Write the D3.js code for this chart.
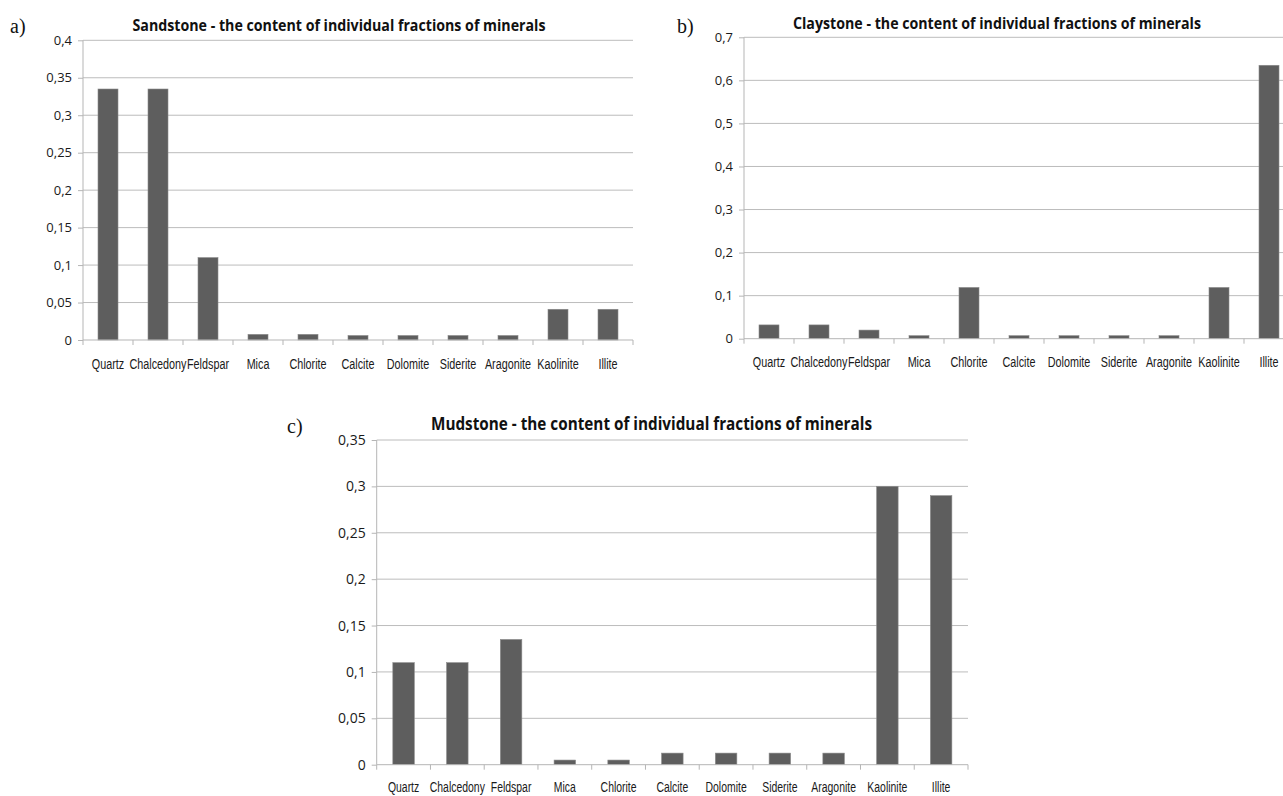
<!DOCTYPE html>
<html>
<head>
<meta charset="utf-8">
<script src="https://cdn.jsdelivr.net/npm/d3@7"></script>
<style>
  html, body { margin: 0; padding: 0; background: #fff; }
  svg { display: block; }
</style>
</head>
<body>
<svg id="fig" width="1283" height="796"></svg>
<script>
// Mineral categories shared by all three rock types
const minerals = ["Quartz", "Chalcedony", "Feldspar", "Mica", "Chlorite", "Calcite",
                  "Dolomite", "Siderite", "Aragonite", "Kaolinite", "Illite"];

// Content of individual mineral fractions
const sandstone = [0.335, 0.335, 0.11, 0.0075, 0.0075, 0.006, 0.006, 0.006, 0.006, 0.041, 0.041];
const claystone = [0.032, 0.032, 0.02, 0.007, 0.119, 0.007, 0.007, 0.007, 0.007, 0.119, 0.635];
const mudstone  = [0.11, 0.11, 0.135, 0.005, 0.005, 0.0125, 0.0125, 0.0125, 0.0125, 0.30, 0.29];

// Y-axis tick values for each panel
const ticksSandstone = [0, 0.05, 0.1, 0.15, 0.2, 0.25, 0.3, 0.35, 0.4];
const ticksClaystone = [0, 0.1, 0.2, 0.3, 0.4, 0.5, 0.6, 0.7];
const ticksMudstone  = [0, 0.05, 0.1, 0.15, 0.2, 0.25, 0.3, 0.35];

const titles = [
  "Sandstone - the content of individual fractions of minerals",
  "Claystone - the content of individual fractions of minerals",
  "Mudstone - the content of individual fractions of minerals"
];
const panelTags = ["a)", "b)", "c)"];

// Panel geometry
const panels = [
  { values: sandstone, ticks: ticksSandstone, title: titles[0], tag: panelTags[0],
    x0: 83, x1: 633, y0: 340, y1: 40.3,
    titleX: 339, titleY: 31, titleLen: 413, titleSize: 16,
    tagX: 10, tagY: 33, tickSize: 13, labelY: 368.5, labelSize: 15 },
  { values: claystone, ticks: ticksClaystone, title: titles[1], tag: panelTags[1],
    x0: 744, x1: 1294, y0: 338.7, y1: 37.3,
    titleX: 997, titleY: 28.5, titleLen: 408, titleSize: 16,
    tagX: 677, tagY: 33, tickSize: 13, labelY: 366.5, labelSize: 15 },
  { values: mudstone, ticks: ticksMudstone, title: titles[2], tag: panelTags[2],
    x0: 376.7, x1: 968, y0: 764.7, y1: 440,
    titleX: 651.5, titleY: 429.5, titleLen: 441, titleSize: 17,
    tagX: 287, tagY: 433, tickSize: 14, labelY: 792, labelSize: 14.5 }
];

const svg = d3.select("#fig");
const fmt = v => String(v).replace(".", ",");

panels.forEach(p => {
  const g = svg.append("g");
  const x = d3.scaleBand().domain(minerals).range([p.x0, p.x1]).paddingInner(0.6).paddingOuter(0.3);
  const xb = d3.scaleBand().domain(minerals).range([p.x0, p.x1]);
  const y = d3.scaleLinear().domain([0, d3.max(p.ticks)]).range([p.y0, p.y1]);

  // horizontal gridlines
  g.append("g").selectAll("line").data(p.ticks.slice(1)).join("line")
    .attr("x1", p.x0).attr("x2", p.x1)
    .attr("y1", d => y(d)).attr("y2", d => y(d))
    .attr("stroke", "#bcbcbc").attr("stroke-width", 1);

  // y axis
  const yAxis = d3.axisLeft(y).tickValues(p.ticks).tickFormat(fmt).tickSize(5).tickPadding(6);
  const ya = g.append("g").attr("transform", `translate(${p.x0},0)`).call(yAxis);
  ya.select(".domain").attr("stroke", "#b5b5b5").attr("d", `M0,${p.y0}V${p.y1}`);
  ya.selectAll(".tick line").attr("stroke", "#b5b5b5");
  ya.selectAll(".tick text")
    .attr("fill", "#1a1a1a")
    .style("font-family", "'Open Sans', 'Noto Sans', sans-serif")
    .style("font-size", p.tickSize + "px");

  // bars
  g.append("g").selectAll("rect").data(p.values).join("rect")
    .attr("x", (d, i) => x(minerals[i]))
    .attr("width", x.bandwidth())
    .attr("y", d => y(d))
    .attr("height", d => p.y0 - y(d))
    .attr("fill", "#5e5e5e")
    .attr("stroke", "#8a8a8a").attr("stroke-width", 0.6);

  // x axis baseline and category boundary ticks
  g.append("line").attr("x1", p.x0).attr("x2", p.x1).attr("y1", p.y0).attr("y2", p.y0)
    .attr("stroke", "#b5b5b5");
  const bounds = minerals.map(m => xb(m)).concat([p.x1]);
  g.append("g").selectAll("line").data(bounds).join("line")
    .attr("x1", d => d).attr("x2", d => d)
    .attr("y1", p.y0).attr("y2", p.y0 + 5)
    .attr("stroke", "#b5b5b5");

  // category labels (condensed)
  g.append("g").selectAll("text").data(minerals).join("text")
    .attr("transform", d => `translate(${xb(d) + xb.bandwidth() / 2},${p.labelY}) scale(0.72,1)`)
    .attr("text-anchor", "middle")
    .style("font-family", "'Liberation Sans', Arial, sans-serif")
    .style("font-size", p.labelSize + "px")
    .attr("fill", "#1a1a1a")
    .text(d => d);

  // title
  g.append("text")
    .attr("x", p.titleX).attr("y", p.titleY)
    .attr("text-anchor", "middle")
    .attr("textLength", p.titleLen).attr("lengthAdjust", "spacingAndGlyphs")
    .style("font-family", "'Open Sans', 'Noto Sans', sans-serif")
    .style("font-weight", "bold")
    .style("font-size", p.titleSize + "px")
    .attr("fill", "#111")
    .text(p.title);

  // panel tag
  svg.append("text")
    .attr("x", p.tagX).attr("y", p.tagY)
    .style("font-family", "'Liberation Serif', 'Times New Roman', serif")
    .style("font-size", "20px")
    .attr("fill", "#111")
    .text(p.tag);
});
</script>
</body>
</html>
